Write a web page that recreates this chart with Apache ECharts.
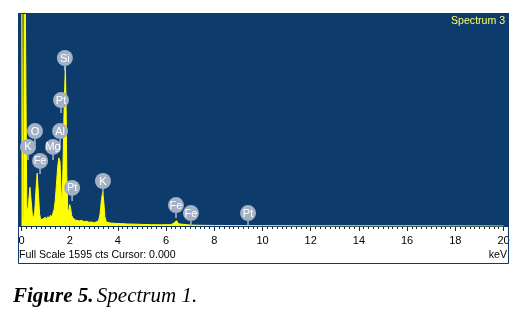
<!DOCTYPE html>
<html><head><meta charset="utf-8">
<script src="https://cdn.jsdelivr.net/npm/echarts@6/dist/echarts.min.js"></script>
<style>html,body{margin:0;padding:0;background:#fff}#c{width:521px;height:309px}</style>
</head><body><div id="c"></div>
<script>
// Spectrum (energy in keV, counts)
const energyKeV = [0.00,0.03,0.05,0.09,0.12,0.19,0.22,0.26,0.30,0.35,0.40,0.45,0.50,0.55,0.60,0.65,0.70,0.75,0.80,0.85,0.90,0.95,1.00,1.05,1.10,1.15,1.20,1.25,1.30,1.35,1.40,1.45,1.50,1.55,1.60,1.64,1.68,1.72,1.77,1.82,1.85,1.88,1.92,1.96,2.00,2.04,2.08,2.12,2.17,2.22,2.30,2.40,2.50,2.60,2.70,2.80,2.90,3.00,3.10,3.20,3.26,3.32,3.37,3.41,3.46,3.52,3.60,3.70,3.90,4.10,4.40,4.70,5.00,5.40,5.80,6.20,6.33,6.43,6.52,6.60,7.00,7.50,8.00,9.00,10.0,12.0,15.0,20.0];
const counts    = [2600,2600,60,35,2600,2600,140,110,190,290,190,80,60,110,270,395,250,90,45,40,55,45,65,50,70,55,80,65,95,120,190,310,440,510,480,270,160,430,900,1195,900,380,130,100,160,130,80,65,55,45,50,38,42,32,36,28,30,25,30,40,90,200,255,190,70,30,25,22,20,18,15,14,12,10,9,10,22,40,16,8,7,5,4,3,2,1,1,0];

// Element markers
const markerNames  = ['Si','Pt','O','Al','K','Mg','Fe','Pt','K','Fe','Fe','Pt'];
const markerKeV    = [1.80,1.64,0.56,1.60,0.27,1.31,0.77,2.10,3.38,6.41,7.03,9.40];
const markerCounts = [1258,943,711,711,592,592,487,285,337,157,97,97];

const xTicks = [0,2,4,6,8,10,12,14,16,18,20];

const chart = echarts.init(document.getElementById('c'));
const specData = energyKeV.map((e,i)=>[e,counts[i]]);
const markData = markerKeV.map((e,i)=>[e,markerCounts[i],markerNames[i]]);
const BLUE = '#0d3b6c';
chart.setOption({
  animation:false,
  backgroundColor:'#fff',
  grid:{left:21.5,right:17.5,top:13,height:213,containLabel:false},
  xAxis:{type:'value',min:xTicks[0],max:xTicks[xTicks.length-1],interval:2,
    splitLine:{show:false},
    axisLine:{show:true,lineStyle:{color:BLUE,width:1}},
    axisTick:{show:true,length:5,lineStyle:{color:'#1a2a40'}},
    minorTick:{show:true,splitNumber:10,length:3,lineStyle:{color:'#1a2a40'}},
    axisLabel:{color:'#000',fontSize:11,fontFamily:'Liberation Sans',margin:9}},
  yAxis:{type:'value',min:0,max:1595,show:false},
  graphic:[
    {type:'rect',z:-10,shape:{x:18,y:13,width:491,height:214},style:{fill:BLUE}},
    {type:'rect',z:100,shape:{x:18.5,y:13.5,width:490,height:250},style:{fill:null,stroke:BLUE,lineWidth:1}},
    {type:'text',z:100,left:451,top:16,style:{text:'Spectrum 3',fill:'#ffff66',font:'10.6px "Liberation Sans"'}},
    {type:'text',z:100,left:19,top:250,style:{text:'Full Scale 1595 cts Cursor: 0.000',fill:'#000',font:'10.6px "Liberation Sans"'}},
    {type:'text',z:100,right:14,top:250,style:{text:'keV',fill:'#000',font:'10.6px "Liberation Sans"'}},
    {type:'text',z:100,left:13,top:286,style:{
      text:'{b|Figure 5.} {i|Spectrum 1.}',
      rich:{b:{font:'italic bold 21px "Liberation Serif"',fill:'#000'},
            i:{font:'italic 21px "Liberation Serif"',fill:'#000'}}}}
  ],
  series:[
    {type:'line',data:specData,symbol:'none',clip:true,
     lineStyle:{color:'#ffff00',width:1},areaStyle:{color:'#ffff00',opacity:1},z:2},
    {type:'custom',data:markData,clip:false,z:5,
     renderItem:function(params,api){
       const p = api.coord([api.value(0),api.value(1)]);
       const r = 8;
       return {type:'group',children:[
         {type:'line',shape:{x1:p[0],y1:p[1]+r,x2:p[0],y2:p[1]+r+5},style:{stroke:'#a9b6c8',lineWidth:1.5}},
         {type:'circle',shape:{cx:p[0],cy:p[1],r:r},style:{fill:'#a3b1c6'}},
         {type:'text',style:{text:markerNames[params.dataIndex],x:p[0],y:p[1]+0.5,align:'center',verticalAlign:'middle',fill:'#fff',font:'11px "Liberation Sans"'}}
       ]};
     }}
  ]
});
</script></body></html>
